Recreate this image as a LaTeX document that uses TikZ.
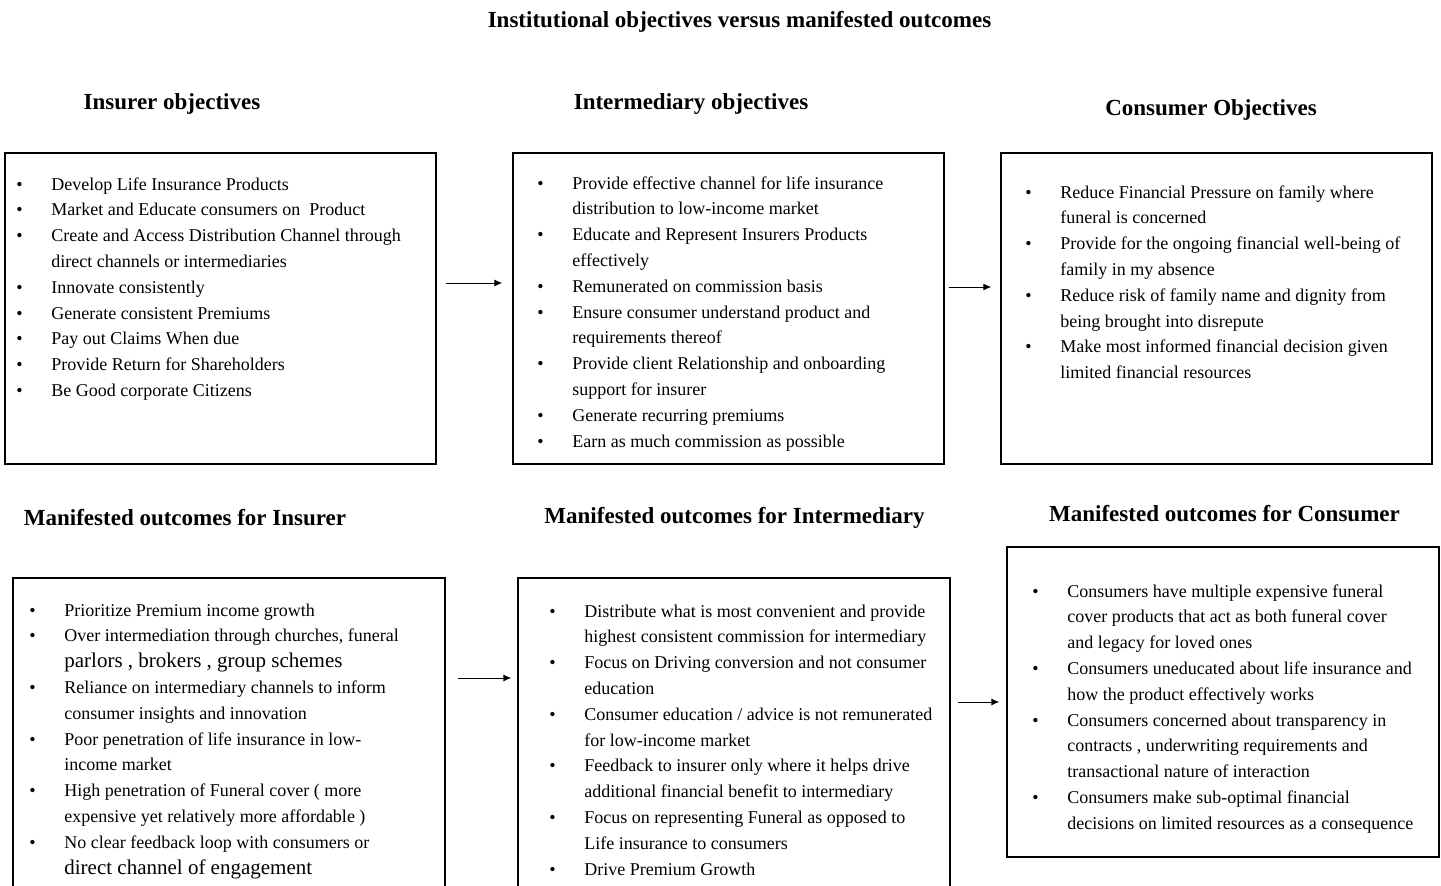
\documentclass[tikz,border=0pt]{standalone}
\usepackage{fontspec}
\setmainfont{Liberation Serif}
\usepackage{tikz}
\usetikzlibrary{arrows.meta}

\newcommand{\bigline}[1]{{\fontsize{10.5}{12.9}\selectfont #1}}

\begin{document}
\begin{tikzpicture}[x=0.5pt,y=-0.5pt,>={Latex[length=4pt,width=3.6pt]},
  box/.style={draw, line width=0.75pt, inner sep=0pt},
  head/.style={font=\fontsize{11.5}{13}\selectfont\bfseries},
  items/.style={anchor=base west, inner sep=0pt, font=\fontsize{9}{12.9}\selectfont}]
\clip (0,0) rectangle (1441,885);

\node[head] (t) at (739.5,22) {Institutional objectives versus manifested outcomes};

% objectives
\node[head] (h1) at (172,104) {Insurer objectives};
\node[head] (h2) at (691,104) {Intermediary objectives};
\node[head] (h3) at (1211,110) {Consumer Objectives};

\node[box, minimum width=215.5pt, minimum height=155.5pt] (b1) at (220.5,308.5) {};
\node[box, minimum width=215.5pt, minimum height=155.5pt] (b2) at (728.5,308.5) {};
\node[box, minimum width=215.5pt, minimum height=155.5pt] (b3) at (1216.5,308.5) {};

\node[items] (l1) at (16,190) {\begin{tabular}[t]{@{}p{17.5pt}@{}l@{}}
\textbullet & Develop Life Insurance Products\\
\textbullet & Market and Educate consumers on\ \ Product\\
\textbullet & Create and Access Distribution Channel through\\
 & direct channels or intermediaries\\
\textbullet & Innovate consistently\\
\textbullet & Generate consistent Premiums\\
\textbullet & Pay out Claims When due\\
\textbullet & Provide Return for Shareholders\\
\textbullet & Be Good corporate Citizens
\end{tabular}};

\node[items] (l2) at (537,189) {\begin{tabular}[t]{@{}p{17.5pt}@{}l@{}}
\textbullet & Provide effective channel for life insurance\\
 & distribution to low-income market\\
\textbullet & Educate and Represent Insurers Products\\
 & effectively\\
\textbullet & Remunerated on commission basis\\
\textbullet & Ensure consumer understand product and\\
 & requirements thereof\\
\textbullet & Provide client Relationship and onboarding\\
 & support for insurer\\
\textbullet & Generate recurring premiums\\
\textbullet & Earn as much commission as possible
\end{tabular}};

\node[items] (l3) at (1025,198) {\begin{tabular}[t]{@{}p{17.5pt}@{}l@{}}
\textbullet & Reduce Financial Pressure on family where\\
 & funeral is concerned\\
\textbullet & Provide for the ongoing financial well-being of\\
 & family in my absence\\
\textbullet & Reduce risk of family name and dignity from\\
 & being brought into disrepute\\
\textbullet & Make most informed financial decision given\\
 & limited financial resources
\end{tabular}};

\draw[->, line width=0.5pt] ([xshift=4.5pt,yshift=12.75pt]b1.east) -- ([xshift=-5pt,yshift=12.75pt]b2.west);
\draw[->, line width=0.5pt] ([xshift=2pt,yshift=10.75pt]b2.east) -- ([xshift=-4.5pt,yshift=10.75pt]b3.west);

% outcomes
\node[head] (h4) at (185,518) {Manifested outcomes for Insurer};
\node[head] (h5) at (734.5,518) {Manifested outcomes for Intermediary};
\node[head] (h6) at (1224.5,514) {Manifested outcomes for Consumer};

\node[box, minimum width=216pt, minimum height=161pt] (b4) at (229,739) {};
\node[box, minimum width=216pt, minimum height=161pt] (b5) at (734,739) {};
\node[box, minimum width=216pt, minimum height=155pt] (b6) at (1223,702) {};

\node[items] (l4) at (29,616) {\begin{tabular}[t]{@{}p{17.5pt}@{}l@{}}
\textbullet & Prioritize Premium income growth\\
\textbullet & Over intermediation through churches, funeral\\
 & \bigline{parlors , brokers , group schemes}\\
\textbullet & Reliance on intermediary channels to inform\\
 & consumer insights and innovation\\
\textbullet & Poor penetration of life insurance in low-\\
 & income market\\
\textbullet & High penetration of Funeral cover ( more\\
 & expensive yet relatively more affordable )\\
\textbullet & No clear feedback loop with consumers or\\
 & \bigline{direct channel of engagement}
\end{tabular}};

\node[items] (l5) at (549,617) {\begin{tabular}[t]{@{}p{17.5pt}@{}l@{}}
\textbullet & Distribute what is most convenient and provide\\
 & highest consistent commission for intermediary\\
\textbullet & Focus on Driving conversion and not consumer\\
 & education\\
\textbullet & Consumer education / advice is not remunerated\\
 & for low-income market\\
\textbullet & Feedback to insurer only where it helps drive\\
 & additional financial benefit to intermediary\\
\textbullet & Focus on representing Funeral as opposed to\\
 & Life insurance to consumers\\
\textbullet & Drive Premium Growth
\end{tabular}};

\node[items] (l6) at (1032,597) {\begin{tabular}[t]{@{}p{17.5pt}@{}l@{}}
\textbullet & Consumers have multiple expensive funeral\\
 & cover products that act as both funeral cover\\
 & and legacy for loved ones\\
\textbullet & Consumers uneducated about life insurance and\\
 & how the product effectively works\\
\textbullet & Consumers concerned about transparency in\\
 & contracts , underwriting requirements and\\
 & transactional nature of interaction\\
\textbullet & Consumers make sub-optimal financial\\
 & decisions on limited resources as a consequence
\end{tabular}};

\draw[->, line width=0.5pt] ([xshift=6pt,yshift=30.5pt]b4.east) -- ([xshift=-3pt,yshift=30.5pt]b5.west);
\draw[->, line width=0.5pt] ([xshift=3.5pt,yshift=18.5pt]b5.east) -- ([xshift=-3.5pt]b6.west);
\end{tikzpicture}
\end{document}
